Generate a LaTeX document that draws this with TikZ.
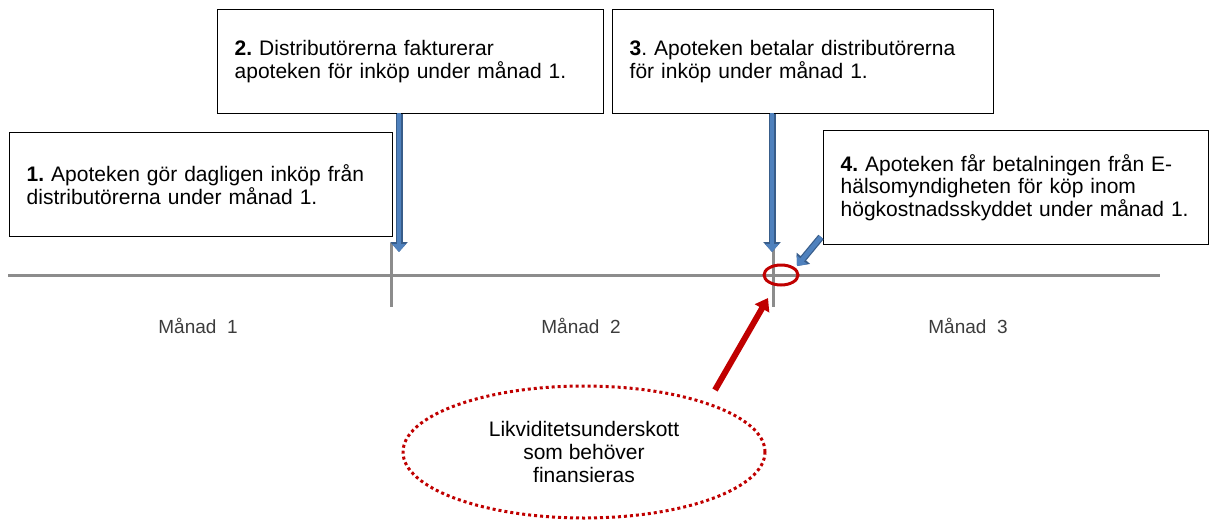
\documentclass[tikz,border=0pt]{standalone}
\usepackage{fontspec}
\setmainfont{Liberation Sans}
\usetikzlibrary{arrows.meta,shapes.geometric,calc}
\definecolor{bfill}{HTML}{4F81BD}
\definecolor{bline}{HTML}{385D8A}
\definecolor{dred}{HTML}{C00000}
\definecolor{tgray}{HTML}{8C8C8C}
\definecolor{mtext}{HTML}{3C3C3C}
\frenchspacing
\begin{document}
\begin{tikzpicture}[x=1pt,y=-1pt,
  infobox/.style={draw=black, line width=1.4pt, anchor=north west, inner xsep=17pt,
    inner ysep=0pt, align=left, font=\fontsize{21}{22.5}\selectfont},
  blueout/.style={draw=bline, line width=7pt, -{Triangle[width=17pt,length=10pt]}},
  bluein/.style={draw=bfill, line width=4.6pt, -{Triangle[width=13.5pt,length=8pt]}},
  redarrow/.style={draw=dred, line width=6pt, -{Triangle[width=16pt,length=12pt]}},
  axis/.style={draw=tgray, line width=3pt},
  monthlbl/.style={text=mtext, font=\fontsize{19}{21}\selectfont},
]
\useasboundingbox (0,0) rectangle (1216,522);

% timeline
\coordinate (tl0) at (8,275);
\coordinate (tl1) at (1160,275);
\coordinate (k1a) at (391,243);
\coordinate (k1b) at (391,307);
\coordinate (k2a) at (773,247);
\coordinate (k2b) at (773,307);
\draw[axis] (tl0) -- (tl1);
\draw[axis] (k1a) -- (k1b);
\draw[axis] (k2a) -- (k2b);

% month labels
\node[monthlbl] (m1) at (198,326) {Månad\ \ 1};
\node[monthlbl] (m2) at (581,326) {Månad\ \ 2};
\node[monthlbl] (m3) at (968,326) {Månad\ \ 3};

% boxes
\node[infobox, text width=349pt, minimum height=104pt] (box1) at (9,132)
  {\textbf{1.} Apoteken gör dagligen inköp från\\distributörerna under månad 1.};
\node[infobox, text width=352pt, minimum height=104pt] (box2) at (217,9)
  {\textbf{2.} Distributörerna fakturerar\\apoteken för inköp under månad 1.};
\node[infobox, text width=347pt, minimum height=104pt] (box3) at (612,9)
  {\textbf{3}. Apoteken betalar distributörerna\\för inköp under månad 1.};
\node[infobox, text width=351pt, minimum height=114pt] (box4) at (823,130)
  {\textbf{4.} Apoteken får betalningen från E-\\hälsomyndigheten för köp inom\\högkostnadsskyddet under månad 1.};

% blue arrows
\coordinate (t2) at (399,252);
\coordinate (t3) at (772,252);
\coordinate (s4) at (821,237);
\coordinate (t4) at (797,266);
\draw[blueout] (box2.south -| t2) -- (t2);
\draw[bluein] ([yshift=1pt]box2.south -| t2) -- (t2);
\draw[blueout] (box3.south -| t3) -- (t3);
\draw[bluein] ([yshift=1pt]box3.south -| t3) -- (t3);
\draw[blueout] (s4) -- (t4);
\draw[bluein] (s4) -- (t4);

% red ring
\node[ellipse, draw=dred, line width=3pt, minimum width=34pt, minimum height=20pt, inner sep=0pt] (ring) at (781,275) {};

% deficit ellipse
\node[ellipse, draw=dred, line width=3pt, dash pattern=on 3pt off 3pt,
  minimum width=362pt, minimum height=132pt, inner sep=0pt, align=center,
  font=\fontsize{21}{23}\selectfont] (deficit) at (584,452)
  {Likviditetsunderskott\\som behöver\\finansieras};

% red arrow
\coordinate (r0) at (715,390);
\coordinate (r1) at (768,298);
\draw[redarrow] (r0) -- (r1);
\end{tikzpicture}
\end{document}
